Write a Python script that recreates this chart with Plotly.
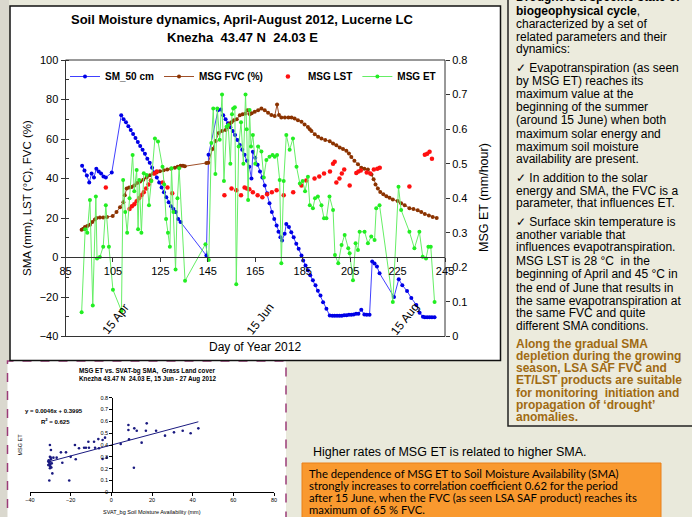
import plotly.graph_objects as go

W, H = 692, 517
def px(x): return x / W
def py(y): return 1 - y / H

# ---------------- main chart data ----------------
sm_day = [92, 93, 94, 95, 96, 97, 98, 99, 100, 101, 102, 104.5,
          108.5, 109.5, 110.5, 111.5, 112.5, 113.5, 114.5, 115.5, 116.5, 117.5, 118.5, 119.5, 120.5,
          121.5, 122.5, 123.5, 124.5, 125.5, 126.5, 127.5, 128.5, 129.5, 130.5, 131.5, 132.5, 133.5,
          144.4, 145.3,
          149.3, 150.5, 151.5, 152.5, 153.5, 154.5, 155.5, 156.5, 157.5, 158.5, 159.5, 160.5, 161.5, 162.5, 163.4,
          164, 165, 166, 167, 168, 169, 170, 171, 172, 173, 174, 174.8, 175.6, 176.3, 177.4, 178.1, 179.2,
          180.2, 181.2, 182.3, 183.3, 184.5,
          185.2, 186.2, 187.2, 188.2, 189.3, 190.4, 191.4, 192.5, 193.6, 195, 196.4,
          197.5, 198.5, 199.5, 200.5, 201.5, 202.5, 203.5, 204.5, 205.5, 206.5, 207.5, 208.5, 209.7, 211, 212, 213.2,
          214.3, 215.3, 216.3, 217.4, 223.5, 225.5, 227, 229, 230.8, 232.9, 234.3, 235.7, 236.5, 237.5, 238.5, 239.5, 240.6]
sm_val = [46.5, 44, 41.5, 38, 42.5, 40.5, 45, 43.5, 42.5, 41, 40.5, 43,
          72, 70, 68.5, 66.5, 64.5, 62.5, 60.5, 58.5, 56.5, 54.5, 52.5, 50, 48,
          45.5, 43, 40.5, 38, 35.5, 33, 30.5, 28, 26, 24.5, 23, 19.5, 18,
          1, 52,
          74.5, 75, 72, 70, 68, 66, 64, 62, 59.5, 57, 54.5, 52, 49, 46, 40,
          53.5, 50.5, 47, 43.5, 40.5, 36.5, 32.5, 27.5, 23, 19.5, 16.2, 13, 10.3, 8.6, 12, 17, 15.4,
          12.8, 10.3, 7, 4.4, 1,
          -1.5, -4, -6.5, -9, -11.5, -14, -16.8, -19.3, -22.7, -26, -29.4,
          -29.5, -29.5, -29.5, -29.5, -29.5, -29.3, -29.3, -29, -29, -28.8, -28.5, -28.5, -26.5, -28.8, -29, -29,
          -2, -3, -4.5, -8, -20, -11, -14, -17, -20.5, -24, -28, -30, -30.3, -30.3, -30.3, -30.3, -30.3]

fvc_day = [91.8, 92.5, 93.2, 94.2, 95.3, 96.3, 97.4, 98.1, 99.5, 100.9, 102.5, 104.9, 106.5, 108, 109.4, 110,
           110.8, 111.8, 112.9, 114, 115.2, 116.5, 117.8, 119.2, 120.6, 122, 123.4, 124.8, 126.4, 127.9, 129.5,
           131.1, 132.3, 133.5, 134.5, 135.3, 144.4, 145.2, 147, 148.3, 149.6, 151, 152.5, 153.5, 154.3, 155,
           156, 157.2, 158.5, 159.7, 160.9, 161.7, 162.7, 163.5, 164.8, 166.2, 167.6, 169, 170.4, 171.8, 173.2,
           174.2, 175, 176, 177.5, 179, 180.3, 181.6, 183, 184.5, 185.8, 187.2, 188, 188.7, 190.1, 191.5, 192.9,
           194.5, 196.4, 197.8, 199.2, 200.6, 202, 203.4, 204.5, 205.5, 206.8, 208.3, 209.7, 211, 212.5, 214,
           214.9, 215.7, 216.7, 217.7, 219, 220.3, 221.6, 223, 225, 226.5, 228, 230, 231.7, 233.5, 235, 236.5,
           238.2, 239.8, 241.5]
fvc_val = [14, 14.5, 15.4, 16, 16.6, 18, 19.3, 20, 20.2, 20.2, 20.5, 21, 23, 25.5, 28, 31.5,
           34.9, 35.5, 35.7, 36.5, 37.7, 38.5, 39.4, 40.5, 41.6, 42.5, 43, 43.7, 44.2, 44.5, 45,
           45.5, 46, 46.5, 46.5, 46.2, 47.9, 48, 55, 59, 63, 64, 64.5, 66, 67.9, 68.5,
           69.5, 70, 72, 72.5, 72.9, 74.6, 72.5, 73, 73.8, 74.6, 75.5, 74.6, 73.3, 72.1, 71.6,
           77.5, 72.1, 70.9, 70.9, 70.9, 70.9, 70.4, 69.5, 68.7, 67.3, 66.1, 65, 64, 62.4, 61.1, 60.2,
           59.5, 58.9, 57.7, 56.8, 55.7, 55, 54, 52.6, 50.9, 49, 47.2, 45.5, 45, 44.5, 42,
           39.6, 37, 34.9, 33.2, 32, 31, 30.3, 29.4, 28.6, 27.5, 26.4, 25, 24.5, 23.9, 23, 22,
           21.3, 20.5, 20]

lst_day = [102, 112, 113, 114, 115, 116, 117, 118, 119, 120, 121, 122.5, 123.5, 126, 128, 130,
           152, 155, 157, 159, 160.5, 161.5, 162.5, 164, 166, 168, 170, 172, 174, 177, 181, 184.5,
           186.5, 190, 192, 194, 196.5, 197.8, 198.5, 199.2, 200.5, 201.5, 202.5, 204.8, 207.6, 208.5,
           209.5, 212, 213.5, 215, 216.5, 217.5, 230, 236.5, 237.5, 238.5, 239.5]
lst_val = [35.5, 24.5, 26, 27, 28.5, 30, 31.5, 33, 35, 37, 39, 42.5, 43.5, 38, 35.5, 32.5,
           31.5, 35, 34, 31.5, 35.5, 35, 34.5, 33, 31.5, 30.5, 32, 33, 34, 31.5, 33, 36.5,
           39, 40, 41, 42.5, 43.5, 47.5, 48.5, 38, 40, 42.5, 44.5, 36.5, 42.8, 43.5,
           44, 43, 42.5, 44.5, 45, 45.5, 36, 52, 52.5, 53.5, 50]

et_day = [91.8, 93.3, 94.2, 95.3, 96.5, 97.8, 98.3, 99.5, 100.9, 102, 103.3, 105, 108.6, 109.3, 110.2, 111,
          112, 113.3, 114, 115, 115.6, 116.1, 117, 118, 119.2, 120.2, 121.2, 122.7, 124, 125.9, 126.6, 127.4,
          128.2, 129, 129.7, 130.5, 131.4, 132.2, 132.9, 135.4, 144, 145.4, 146.5, 147.3, 148.2, 149, 150,
          151, 151.8, 152.9, 153.6, 154.5, 155.2, 155.7, 156.4, 157, 158, 159, 160, 160.9, 161.4, 162,
          162.6, 163.2, 164, 165, 166.2, 167.6, 168.6, 169.7, 171, 172.3, 173.2, 174.2, 175.3, 176, 177,
          178.1, 179.5, 180.9, 182.4, 183.8, 185, 186, 187.2, 188, 189.3, 190.2, 191.4, 192.9, 194, 195,
          196.3, 197.8, 198.6, 200, 201.4, 202.7, 204.2, 204.8, 206.2, 207.3, 208.3, 209, 211.1, 212.5,
          213.9, 215.3, 216, 217.4, 223, 225.4, 226.5, 230, 232.1, 234.2, 235.6, 237, 238, 239, 240.6]
et_val = [0.07, 0.31, 0.30, 0.395, 0.09, 0.405, 0.226, 0.23, 0.26, 0.38, 0.26, 0.135, 0.074, 0.453, 0.36, 0.30,
          0.40, 0.525, 0.42, 0.482, 0.31, 0.453, 0.30, 0.472, 0.467, 0.38, 0.45, 0.573, 0.564, 0.491, 0.44, 0.34,
          0.30, 0.26, 0.487, 0.36, 0.194, 0.40, 0.487, 0.161, 0.267, 0.221, 0.56, 0.66, 0.47, 0.66, 0.569,
          0.70, 0.45, 0.607, 0.612, 0.50, 0.643, 0.66, 0.663, 0.151, 0.55, 0.62, 0.50, 0.70, 0.60, 0.395,
          0.655, 0.55, 0.583, 0.50, 0.55, 0.535, 0.46, 0.511, 0.52, 0.525, 0.52, 0.525, 0.453, 0.212, 0.45,
          0.583, 0.54, 0.573, 0.491, 0.443, 0.45, 0.42, 0.462, 0.38, 0.371, 0.40, 0.405, 0.38, 0.342, 0.342,
          0.405, 0.366, 0.236, 0.212, 0.265, 0.294, 0.255, 0.241, 0.163, 0.27, 0.25, 0.303, 0.303, 0.27,
          0.289, 0.279, 0.371, 0.38, 0.10, 0.433, 0.366, 0.303, 0.255, 0.303, 0.231, 0.226, 0.26, 0.26, 0.10]

day_ticks = [85, 105, 125, 145, 165, 185, 205, 225, 245]
date_marks = [("15 Apr", 106), ("15 Jun", 167), ("15 Aug", 228)]

# ---------------- inset data ----------------
ins_x = [-30.2, -29.7, -29.8, -30.2, -30.5, -29.3, -30.2, -29.0, -30.5, -28.5, -26.9, -31.0, -30.6, -30.0,
         -31.0, -30.0, -29.5, -30.8, -29.7, -30.2, -24.8, -24.1, -22.3, -20.7, -20.0, -17.9, -17.5, -15.9,
         -13.4, -12.5, -11.3, -11.0, -8.5, -8.0, -6.4, -6.1, -4.3, -4.3, -3.1, -2.3, 4.6, 8.4, 8.4, 8.7,
         11.3, 11.1, 12.5, 14.9, 17.4, 17.0, 22.0, 26.4, 30.8, 35.1, 39.0, 42.8]
ins_y = [0.40, 0.358, 0.293, 0.26, 0.231, 0.245, 0.203, 0.16, 0.10, 0.293, 0.293, 0.26, 0.25, 0.24,
         0.23, 0.22, 0.21, 0.27, 0.28, 0.30, 0.338, 0.25, 0.338, 0.10, 0.30, 0.40, 0.28, 0.372,
         0.377, 0.377, 0.428, 0.377, 0.428, 0.377, 0.45, 0.372, 0.442, 0.282, 0.462, 0.293, 0.408, 0.569, 0.527, 0.448,
         0.541, 0.208, 0.521, 0.42, 0.583, 0.521, 0.521, 0.479, 0.507, 0.521, 0.499, 0.541]
fit_slope, fit_icpt, fit_r2 = 0.0046, 0.3995, 0.625

# ---------------- texts ----------------
right_lines = [
    (-3, "<b>Drought is a specific state of</b>", "#000000"),
    (11, "<b>biogeophysical cycle</b>,", "#000000"),
    (24, "characterized by a set of", "#000000"),
    (36.7, "related parameters and their", "#000000"),
    (49.3, "dynamics:", "#000000"),
    (68.3, "\u2713 Evapotranspiration (as seen", "#000000"),
    (81.3, "by MSG ET) reaches its", "#000000"),
    (94.3, "maximum value at the", "#000000"),
    (107.0, "beginning of the summer", "#000000"),
    (119.8, "(around 15 June) when both", "#000000"),
    (133.5, "maximum solar energy and", "#000000"),
    (146.5, "maximum soil moisture", "#000000"),
    (159, "availability are present.", "#000000"),
    (178.3, "\u2713 In addition to the solar", "#000000"),
    (190.8, "energy and SMA, the FVC is a", "#000000"),
    (203.3, "parameter, that influences ET.", "#000000"),
    (221.7, "\u2713 Surface skin temperature is", "#000000"),
    (234.5, "another variable that", "#000000"),
    (247.2, "influences evapotranspiration.", "#000000"),
    (261.2, "MSG LST is 28 \u00b0C  in the", "#000000"),
    (274.3, "beginning of April and 45 \u00b0C in", "#000000"),
    (287.5, "the end of June that results in", "#000000"),
    (300.5, "the same evapotranspiration at", "#000000"),
    (313.3, "the same FVC and quite", "#000000"),
    (326, "different SMA conditions.", "#000000"),
    (343.5, "<b>Along the gradual SMA</b>", "#A06A12"),
    (355.5, "<b>depletion during the growing</b>", "#A06A12"),
    (367.8, "<b>season, LSA SAF FVC and</b>", "#A06A12"),
    (380.2, "<b>ET/LST products are suitable</b>", "#A06A12"),
    (392.7, "<b>for monitoring  initiation and</b>", "#A06A12"),
    (405, "<b>propagation of \u2018drought\u2019</b>", "#A06A12"),
    (417.3, "<b>anomalies.</b>", "#A06A12"),
]
orange_lines = [
    (473, "The dependence of MSG ET to Soil Moisture Availability (SMA)"),
    (485.5, "strongly increases to correlation coefficient 0.62 for the period"),
    (497.5, "after 15 June, when the FVC (as seen LSA SAF product) reaches its"),
    (509.5, "maximum of 65 % FVC."),
]

FONT = "Liberation Sans, Arial, sans-serif"
SLIDE_BG = "#E9E9DB"

fig = go.Figure()

fig.add_trace(go.Scatter(x=sm_day, y=sm_val, name="SM_50 cm", mode="lines+markers",
                         line=dict(color="#4040FF", width=1), marker=dict(color="#0000E6", size=4),
                         xaxis="x", yaxis="y"))
fig.add_trace(go.Scatter(x=fvc_day, y=fvc_val, name="MSG FVC (%)", mode="lines+markers",
                         line=dict(color="#A0502A", width=1), marker=dict(color="#8B3300", size=4),
                         xaxis="x", yaxis="y"))
fig.add_trace(go.Scatter(x=lst_day, y=lst_val, name="MSG LST", mode="markers",
                         marker=dict(color="#FF1010", size=4.5), xaxis="x", yaxis="y"))
fig.add_trace(go.Scatter(x=et_day, y=et_val, name="MSG ET", mode="lines+markers",
                         line=dict(color="#66EE66", width=1), marker=dict(color="#22EE22", size=4),
                         xaxis="x", yaxis="y2"))

# inset
fig.add_trace(go.Scatter(x=ins_x, y=ins_y, mode="markers", showlegend=False,
                         marker=dict(color="#1A1A80", size=2.6), xaxis="x3", yaxis="y3"))
fx = [min(ins_x), max(ins_x)]
fig.add_trace(go.Scatter(x=fx, y=[fit_slope * v + fit_icpt for v in fx], mode="lines", showlegend=False,
                         line=dict(color="#1A1A80", width=1), xaxis="x3", yaxis="y3"))

shapes = [
    dict(type="rect", xref="paper", yref="paper", x0=0, x1=px(9), y0=0, y1=1,
         fillcolor="#DAD8CE", line=dict(width=0), layer="below"),
    dict(type="rect", xref="paper", yref="paper", x0=px(508), x1=px(700), y0=py(426), y1=py(-5),
         fillcolor="#ECEBDD", line=dict(color="#222222", width=1.5), layer="below"),
    dict(type="rect", xref="paper", yref="paper", x0=px(7.5), x1=px(286), y0=py(530), y1=py(361),
         fillcolor="white", line=dict(color="#9B3C78", width=1.5, dash="dash"), layer="below"),
    dict(type="rect", xref="paper", yref="paper", x0=px(10), x1=px(500.5), y0=py(360.5), y1=py(6),
         fillcolor="white", line=dict(color="#111111", width=1.5), layer="below"),
    dict(type="rect", xref="paper", yref="paper", x0=px(302), x1=px(661), y0=py(530), y1=py(463),
         fillcolor="#F9992F", line=dict(color="#E9801A", width=1), layer="below"),
    dict(type="rect", xref="x domain", yref="y domain", x0=0, x1=1, y0=0, y1=1,
         line=dict(color="#333333", width=1), layer="above"),
]

ann = []
def text(x, y, s, size, color="#000000", xanchor="center", yanchor="middle", angle=0, family=FONT):
    ann.append(dict(x=x, y=y, xref="paper", yref="paper", text=s, showarrow=False,
                    xanchor=xanchor, yanchor=yanchor, textangle=angle,
                    font=dict(family=family, size=size, color=color)))

text(px(242), py(20), "<b>Soil Moisture dynamics, April-August 2012, Lucerne LC</b>", 13)
text(px(242), py(37.5), "<b>Knezha  43.47 N  24.03 E</b>", 13)
text(px(255), py(347), "Day of Year 2012", 12)
text(px(27), py(198), "SMA (mm), LST (\u00b0C), FVC (%)", 11.5, angle=-90)
text(px(484), py(198), "MSG ET (mm/hour)", 12.5, angle=-90)
for lbl, d in date_marks:
    ann.append(dict(x=d, y=-31, xref="x", yref="y", text=lbl, showarrow=False, textangle=-52,
                    font=dict(family=FONT, size=12, color="#000000")))

for yy, s, c in right_lines:
    text(px(514), py(yy), s, 12, color=c, xanchor="left")

text(px(311), py(452), "Higher rates of MSG ET is related to higher SMA.", 12.5, xanchor="left")
for yy, s in orange_lines:
    text(px(307), py(yy), s, 11.3, xanchor="left", family="Lato, sans-serif")

# inset texts
text(px(147), py(370.5), "<b>MSG ET vs. SVAT-bg SMA,  Grass Land cover</b>", 6.3)
text(px(147), py(379), "<b>Knezha 43.47 N  24.03 E, 15 Jun - 27 Aug 2012</b>", 6.3)
text(px(54), py(410.7), "<b>y = 0.0046x + 0.3995</b>", 6)
text(px(55), py(420.7), "<b>R<sup>2</sup> = 0.625</b>", 6)
text(px(19.5), py(445), "MSG ET", 5.5, angle=-90)
text(px(152), py(512), "SVAT_bg Soil Moisture Availability (mm)", 5.5)

fig.update_layout(
    width=W, height=H, margin=dict(l=0, r=0, t=0, b=0, autoexpand=False),
    paper_bgcolor=SLIDE_BG, plot_bgcolor="white",
    font=dict(family=FONT, color="#000000"),
    shapes=shapes, annotations=ann, hovermode=False,
    legend=dict(orientation="h", x=px(65), y=py(62), xanchor="left", yanchor="top",
                bgcolor="rgba(0,0,0,0)", font=dict(family=FONT, size=10, weight="bold"),
                itemwidth=30, tracegroupgap=0),
    xaxis=dict(domain=[px(65.5), px(445)], range=[85, 245], tickmode="array", tickvals=day_ticks,
               anchor="free", position=py(257), showline=True, linecolor="#333333", linewidth=1,
               ticks="outside", ticklen=4, tickcolor="#333333", tickfont=dict(size=11),
               showgrid=False, zeroline=False),
    yaxis=dict(domain=[py(336.5), py(60)], range=[-40, 100], dtick=20, ticks="outside", ticklen=4,
               tickcolor="#333333", tickfont=dict(size=11), showgrid=False, zeroline=False,
               showline=True, linecolor="#333333",
               minor=dict(dtick=10, ticks="inside", ticklen=3, tickcolor="#333333")),
    yaxis2=dict(overlaying="y", side="right", anchor="x", range=[0, 0.8], dtick=0.1,
                ticks="outside", ticklen=4, tickcolor="#333333", tickfont=dict(size=11),
                showgrid=False, zeroline=False),
    xaxis3=dict(domain=[px(30), px(274)], range=[-40, 80], dtick=20, anchor="y3", ticks="outside",
                ticklen=2.5, tickcolor="black", tickfont=dict(size=5.5), showline=True, linecolor="black",
                showgrid=False, zeroline=False),
    yaxis3=dict(domain=[py(492.3), py(397.7)], range=[0, 0.8], dtick=0.1, anchor="free", position=px(111.7),
                ticks="outside", ticklen=2.5, tickcolor="black", tickfont=dict(size=5.5), showline=True,
                linecolor="black", showgrid=False, zeroline=False),
)

fig.write_html("out.html", config={"displayModeBar": False, "staticPlot": True},
               post_script="document.body.style.margin='0';document.body.style.padding='0';"
                           "document.body.style.overflow='hidden';")
